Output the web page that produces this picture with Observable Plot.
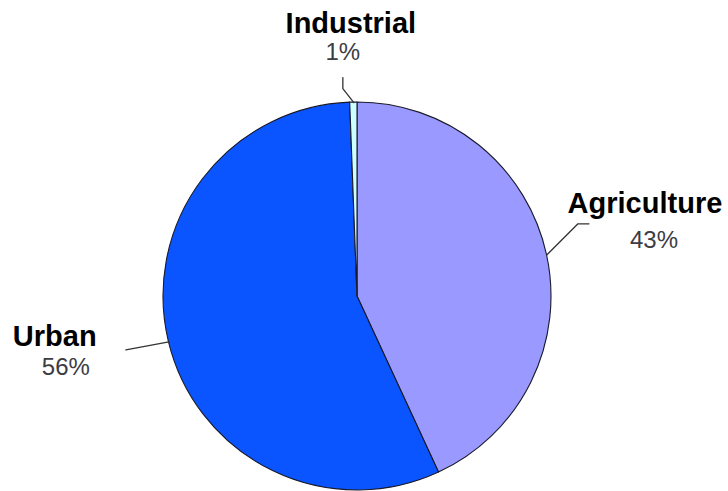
<!DOCTYPE html>
<html>
<head>
<meta charset="utf-8">
<script src="https://cdn.jsdelivr.net/npm/d3@7"></script>
<script src="https://cdn.jsdelivr.net/npm/@observablehq/plot@0.6"></script>
<style>
  html, body { margin: 0; padding: 0; background: #fff; }
</style>
</head>
<body>
<div id="chart"></div>
<script>
// ---- data ----
const categories = ["Agriculture", "Urban", "Industrial"];
const shares = [43.1, 56.3, 0.6];
const percentLabels = ["43%", "56%", "1%"];
const sliceColors = ["#9999ff", "#0a55ff", "#ccffff"];

// ---- layout ----
const W = 728, H = 491;
const cx = 357, cy = 296, R = 194;
const font = "'Liberation Sans', Arial, sans-serif";
// offsets relative to each slice's outer mid-point
const leaderOffsets = {
  Agriculture: [[31, -31], [42, -31]],
  Urban: [[-43, 8]],
  Industrial: [[-11, -14], [-11, -25]]
};
const nameOffsets = {Agriculture: [98, -51], Urban: [-156, -5], Industrial: [-3, -79]};
const nameAnchors = {Agriculture: "middle", Urban: "start", Industrial: "middle"};
const pctOffsets = {Agriculture: [107, -14], Urban: [-103, 26], Industrial: [-11, -50]};

const arcs = d3.pie().sort(null).value(d => d.share)(
  categories.map((c, i) => ({category: c, share: shares[i], pct: percentLabels[i], color: sliceColors[i]}))
);

const anchors = arcs.map(a => {
  const m = (a.startAngle + a.endAngle) / 2;
  return {category: a.data.category, pct: a.data.pct, x: cx + R * Math.sin(m), y: cy - R * Math.cos(m)};
});

const leaderPts = anchors.flatMap(a => [
  {category: a.category, x: a.x, y: a.y},
  ...leaderOffsets[a.category].map(([dx, dy]) => ({category: a.category, x: a.x + dx, y: a.y + dy}))
]);

const nameRows = anchors.map(a => ({
  text: a.category, x: a.x + nameOffsets[a.category][0], y: a.y + nameOffsets[a.category][1], anchor: nameAnchors[a.category]
}));
const pctRows = anchors.map(a => ({
  text: a.pct, x: a.x + pctOffsets[a.category][0], y: a.y + pctOffsets[a.category][1]
}));

function pieMark(index, scales) {
  const sx = scales.x, sy = scales.y;
  const r = sx(cx + R) - sx(cx);
  const arc = d3.arc().innerRadius(0).outerRadius(r);
  const g = d3.create("svg:g").attr("transform", `translate(${sx(cx)},${sy(cy)})`);
  g.selectAll("path").data(arcs).join("path")
    .attr("d", arc)
    .attr("fill", d => d.data.color)
    .attr("stroke", "#1a1a2a")
    .attr("stroke-width", 1.1)
    .attr("stroke-linejoin", "round");
  return g.node();
}

const chart = Plot.plot({
  width: W,
  height: H,
  margin: 0,
  x: {domain: [0, W], range: [0, W], axis: null},
  y: {domain: [0, H], range: [0, H], axis: null},
  style: {background: "#fff", fontFamily: font},
  marks: [
    pieMark,
    Plot.line(leaderPts, {x: "x", y: "y", z: "category", stroke: "#333", strokeWidth: 1.3}),
    Plot.text(nameRows.filter(d => d.anchor === "middle"), {x: "x", y: "y", text: "text", fontSize: 29, fontWeight: "bold", fill: "#000", textAnchor: "middle", fontFamily: font}),
    Plot.text(nameRows.filter(d => d.anchor === "start"), {x: "x", y: "y", text: "text", fontSize: 29, fontWeight: "bold", fill: "#000", textAnchor: "start", fontFamily: font}),
    Plot.text(pctRows, {x: "x", y: "y", text: "text", fontSize: 24, fill: "#3c3c44", textAnchor: "middle", fontFamily: font})
  ]
});
document.getElementById("chart").append(chart);
</script>
</body>
</html>
